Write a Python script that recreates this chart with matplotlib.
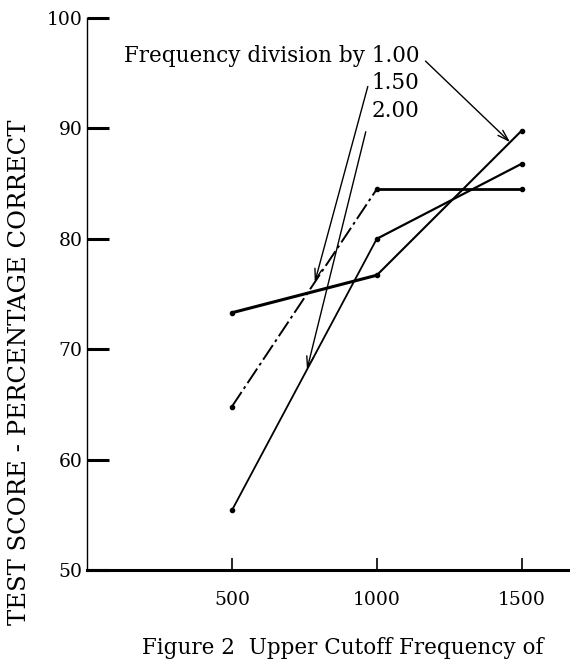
import numpy as np
import matplotlib
matplotlib.use("Agg")
import matplotlib.pyplot as plt

plt.rcParams['font.family'] = ['DejaVu Serif']

# upper cutoff frequency (Hz)
freq = [500, 1000, 1500]
# test score, percentage correct, one list per frequency division
div_100 = [73.3, 76.7, 89.8]
div_150 = [64.8, 84.5, 84.5]
div_200 = [55.4, 80.0, 86.8]

y_ticks = [50, 60, 70, 80, 90, 100]
x_ticks = [500, 1000, 1500]

# where each label arrow touches its line (x only, y)
tip_x = {'1.00': 1460, '1.50': 786, '2.00': 759}

fig = plt.figure(figsize=(5.7, 6.65), dpi=100)
ax = fig.add_axes([0.1526, 0.1429, 0.8440, 0.8300])

ax.plot(freq[:2], div_100[:2], color='black', lw=2.2, solid_capstyle='round')
ax.plot(freq[1:], div_100[1:], color='black', lw=1.5)

ax.plot(freq[:2], div_150[:2], color='black', lw=1.4, linestyle=(0, (9, 2, 1.5, 2)))
ax.plot(freq[1:], div_150[1:], color='black', lw=2.0)

ax.plot(freq[:2], div_200[:2], color='black', lw=1.3)
ax.plot(freq[1:], div_200[1:], color='black', lw=1.6)

for s in (div_100, div_150, div_200):
    ax.plot(freq, s, linestyle='none', marker='o', ms=3, color='black')

ax.set_xlim(0, 1660)
ax.set_ylim(50, 100)
ax.set_xticks(x_ticks)
ax.set_yticks(y_ticks)
ax.tick_params(axis='y', direction='in', length=16, width=2.2, pad=3, labelsize=13.5)
ax.tick_params(axis='x', direction='in', length=9, width=1.2, pad=15, labelsize=13.5)

for side in ('top', 'right'):
    ax.spines[side].set_visible(False)
ax.spines['bottom'].set_linewidth(2.2)
ax.spines['left'].set_linewidth(1.0)
ax.spines['left'].set_linestyle((0, (5, 1)))

# labels
lab_x = 1148
ax.text(lab_x, 96.6, 'Frequency division by 1.00', ha='right', va='center', fontsize=15.5)
ax.text(lab_x, 94.1, '1.50', ha='right', va='center', fontsize=15.5)
ax.text(lab_x, 91.6, '2.00', ha='right', va='center', fontsize=15.5)

starts = {'1.00': (1168, 96.1), '1.50': (969, 93.8), '2.00': (962, 89.7)}
series = {'1.00': div_100, '1.50': div_150, '2.00': div_200}
for key in ('1.00', '1.50', '2.00'):
    tx = tip_x[key]
    ty = np.interp(tx, freq, series[key])
    ax.annotate('', xy=(tx, ty), xytext=starts[key],
                arrowprops=dict(arrowstyle='->,head_length=0.8,head_width=0.25',
                                color='black', lw=1.0, shrinkA=0, shrinkB=0))

fig.text(20 / 570, 1 - 372 / 665, 'TEST SCORE - PERCENTAGE CORRECT',
         rotation=90, ha='center', va='center', fontsize=17.5)
fig.text(142 / 570, 1 - 648 / 665, 'Figure 2  Upper Cutoff Frequency of',
         ha='left', va='center', fontsize=15.5)

fig.savefig('out.png', dpi=100)
